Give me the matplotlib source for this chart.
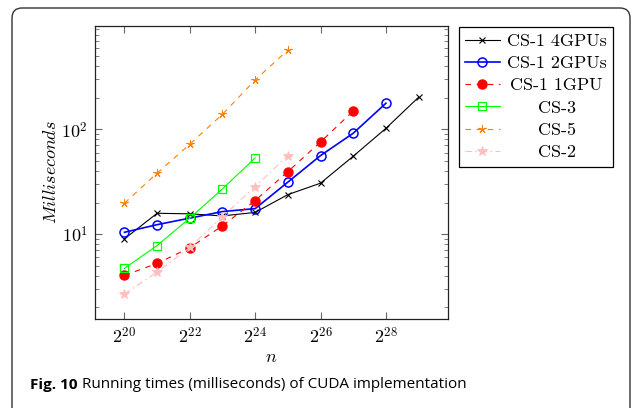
import matplotlib
matplotlib.use("Agg")
import matplotlib.pyplot as plt
import matplotlib.transforms as mtransforms
from matplotlib.patches import FancyBboxPatch
from matplotlib.ticker import FixedLocator, FixedFormatter, LogLocator, NullFormatter

# ---------------- data ----------------
n_4gpu = [2**20, 2**21, 2**22, 2**23, 2**24, 2**25, 2**26, 2**27, 2**28, 2**29]
t_4gpu = [9.0, 15.8, 15.6, 14.9, 16.1, 23.8, 30.6, 55.3, 102, 202]

n_2gpu = [2**20, 2**21, 2**22, 2**23, 2**24, 2**25, 2**26, 2**27, 2**28]
t_2gpu = [10.4, 12.3, 14.2, 16.4, 17.5, 31.3, 56.1, 91.6, 177]

n_1gpu = [2**20, 2**21, 2**22, 2**23, 2**24, 2**25, 2**26, 2**27]
t_1gpu = [4.04, 5.25, 7.41, 12.0, 20.9, 39.4, 75.7, 149]

n_cs3 = [2**20, 2**21, 2**22, 2**23, 2**24]
t_cs3 = [4.71, 7.78, 14.2, 27.0, 53.3]

n_cs5 = [2**20, 2**21, 2**22, 2**23, 2**24, 2**25]
t_cs5 = [19.7, 38.1, 72, 139, 295, 569]

n_cs2 = [2**20, 2**21, 2**22, 2**23, 2**24, 2**25]
t_cs2 = [2.68, 4.35, 7.45, 14.7, 28.4, 56.1]

series_labels = ["CS-1 4GPUs", "CS-1 2GPUs", "CS-1 1GPU", "CS-3", "CS-5", "CS-2"]
xtick_values = [2**20, 2**22, 2**24, 2**26, 2**28]
xtick_labels = [r"$2^{20}$", r"$2^{22}$", r"$2^{24}$", r"$2^{26}$", r"$2^{28}$"]
ytick_values = [10, 100]
ytick_labels = [r"$10^{1}$", r"$10^{2}$"]
caption_bold = "Fig. 10"
caption_rest = " Running times (milliseconds) of CUDA implementation"

# ---------------- style ----------------
plt.rcParams["mathtext.fontset"] = "cm"
plt.rcParams["font.family"] = ["cmr10", "DejaVu Serif"]
plt.rcParams["axes.unicode_minus"] = False
FS = 13

W, H = 637, 408
fig = plt.figure(figsize=(W / 100, H / 100), dpi=100)
ax = fig.add_axes([95 / W, 1 - 319 / H, (448 - 95) / W, (319 - 26) / H])

orange = (1.0, 0.5, 0.0)
pink = (1.0, 0.75, 0.75)

ax.plot(n_4gpu, t_4gpu, color="black", lw=0.8, marker="x", ms=4, mew=0.8,
        label=series_labels[0])
ax.plot(n_2gpu, t_2gpu, color="blue", lw=1.2, marker="o", ms=6.5, mfc="none",
        mew=1.1, label=series_labels[1])
ax.plot(n_1gpu, t_1gpu, color="red", lw=0.8, ls=(0, (5, 5)), marker="o", ms=6.5,
        mfc="red", mec="red", label=series_labels[2])
ax.plot(n_cs3, t_cs3, color=(0.0, 1.0, 0.0), lw=0.8, marker="s", ms=6,
        mfc="none", mew=0.9, label=series_labels[3])
ax.plot(n_cs5, t_cs5, color=orange, lw=0.8, ls=(0, (5, 5)), marker=(5, 2, 0),
        ms=6, mew=0.7, label=series_labels[4])
ax.plot(n_cs2, t_cs2, color=pink, lw=0.8, ls=(0, (6, 3, 1.5, 3)), marker="*",
        ms=7, mew=0.6, label=series_labels[5])

ax.set_xscale("log", base=2)
ax.set_yscale("log")
ax.set_xlim(2**19.1, 2**29.9)
ax.set_ylim(10**0.19, 10**2.985)

ax.xaxis.set_major_locator(FixedLocator(xtick_values))
ax.xaxis.set_major_formatter(FixedFormatter(xtick_labels))
ax.xaxis.set_minor_locator(FixedLocator([]))
ax.yaxis.set_major_locator(FixedLocator(ytick_values))
ax.yaxis.set_major_formatter(FixedFormatter(ytick_labels))
ax.yaxis.set_minor_locator(LogLocator(base=10, subs=range(2, 10)))
ax.yaxis.set_minor_formatter(NullFormatter())

tick_col = "#666666"
ax.tick_params(which="both", direction="in", top=True, right=True,
               color=tick_col, labelsize=FS, pad=5)
ax.tick_params(which="major", length=5, width=0.8)
ax.tick_params(which="minor", length=3, width=0.6)
for s in ax.spines.values():
    s.set_color("#222222")
    s.set_linewidth(0.9)

ax.set_xlabel(r"$n$", fontsize=FS, labelpad=2)
ax.set_ylabel(r"$Milliseconds$", fontsize=FS, labelpad=2)

leg = ax.legend(loc="upper left", bbox_to_anchor=((459 - 95) / (448 - 95), 0.997),
                borderaxespad=0, fancybox=False, edgecolor="black",
                fontsize=FS, numpoints=1, handlelength=1.9, handletextpad=0.4,
                borderpad=0.35, labelspacing=0.37, framealpha=1)
leg.get_frame().set_linewidth(0.9)

# frame around the whole figure panel (open at the bottom)
frame = FancyBboxPatch((12, -30), 618, H - 8 + 30,
                       boxstyle="round,pad=0,rounding_size=10",
                       transform=mtransforms.IdentityTransform(),
                       fill=False, edgecolor="#333333", lw=1.0, clip_on=False)
fig.add_artist(frame)

# caption
cap_y = 1 - 385 / H
CFS = 11
t1 = fig.text(30 / W, cap_y, caption_bold, fontsize=CFS, fontweight="bold",
              family=["Open Sans", "DejaVu Sans"], va="center", ha="left")
fig.canvas.draw()
r = fig.canvas.get_renderer()
bb = t1.get_window_extent(r)
fig.text(bb.x1 / W, cap_y, caption_rest, fontsize=CFS,
         family=["Open Sans", "DejaVu Sans"], va="center", ha="left")

# center legend labels like pgfplots
fig.canvas.draw()
texts = leg.get_texts()
ws = [t.get_window_extent(r).width for t in texts]
mw = max(ws)
for t, w in zip(texts, ws):
    t.set_transform(t.get_transform() + mtransforms.Affine2D().translate((mw - w) / 2, 0))

fig.savefig("out.png", dpi=100)
